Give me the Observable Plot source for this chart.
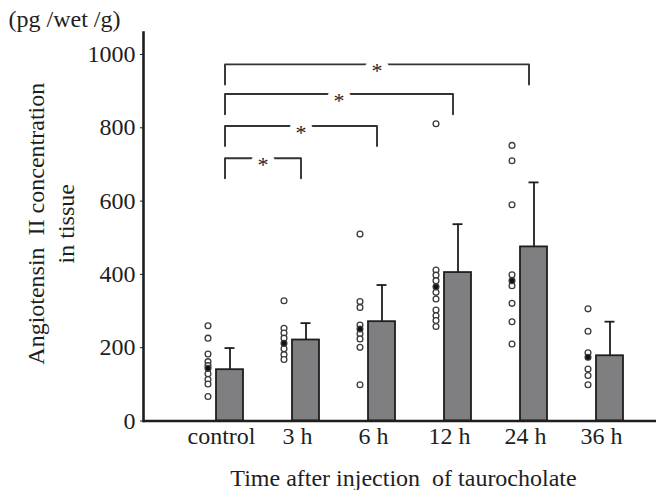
<!DOCTYPE html>
<html><head><meta charset="utf-8">
<script src="https://cdn.jsdelivr.net/npm/d3@7"></script>
<script src="https://cdn.jsdelivr.net/npm/@observablehq/plot@0.6"></script>
<style>body{margin:0;background:#fff}</style>
</head><body><div id="chart"></div>
<script>
const categories = ["control", "3 h", "6 h", "12 h", "24 h", "36 h"];
const means = [140, 221, 271, 405, 475, 178];
const sds = [59, 46, 100, 132, 176, 93];
const controlPts = [260, 226, 183, 162, 151, 129, 113, 101, 67];
const h3Pts = [328, 253, 240, 226, 197, 181, 168];
const h6Pts = [510, 326, 310, 262, 238, 224, 201, 99];
const h12Pts = [811, 412, 398, 383, 351, 333, 303, 287, 274, 258];
const h24Pts = [752, 710, 590, 399, 369, 321, 271, 210];
const h36Pts = [306, 245, 186, 142, 124, 99];
const medians = [144, 212, 251, 366, 383, 174];
const bracketTargets = [1, 2, 3, 4];
const bracketLevels = [717, 805, 892, 973];
const bracketDrop = 55;
const yTicks = [0, 200, 400, 600, 800, 1000];

const pointLists = [controlPts, h3Pts, h6Pts, h12Pts, h24Pts, h36Pts];
const groups = categories.map((c, i) => ({i, c, mean: means[i], sd: sds[i]}));
const pts = [];
pointLists.forEach((arr, i) => arr.forEach(v => pts.push({i, v})));
const med = medians.map((v, i) => ({i, v}));
const bracketPts = [];
bracketTargets.forEach((k, j) => {
  const L = bracketLevels[j];
  bracketPts.push({id: j, x: 0, y: L - bracketDrop}, {id: j, x: 0, y: L}, {id: j, x: k, y: L}, {id: j, x: k, y: L - bracketDrop});
});
const stars = bracketTargets.map((k, j) => ({x: k / 2, y: bracketLevels[j]}));

const ink = "#1e1e1e";
const chart = Plot.plot({
  width: 656, height: 490,
  marginLeft: 143, marginRight: 0, marginTop: 32, marginBottom: 69.5,
  style: {fontFamily: "Liberation Serif", fontSize: "24px", color: ink, background: "#fff"},
  x: {domain: [0, 5], insetLeft: 78, insetRight: 55},
  y: {domain: [0, 1060]},
  marks: [
    Plot.rect(groups, {x1: d => d.i - 0.5, x2: d => d.i + 0.5, y1: 0, y2: "mean", insetLeft: 33, insetRight: 16, fill: "#7f7f82", stroke: ink, strokeWidth: 1.8}),
    Plot.ruleX(groups, {x: "i", y1: "mean", y2: d => d.mean + d.sd, dx: 8.5, stroke: ink, strokeWidth: 1.8}),
    Plot.ruleY(groups, {x1: d => d.i - 0.5, x2: d => d.i + 0.5, y: d => d.mean + d.sd, insetLeft: 41.5, insetRight: 24.5, stroke: ink, strokeWidth: 1.8}),
    Plot.dot(pts, {x: "i", y: "v", dx: -13.5, r: 2.9, stroke: "#3a3a3a", strokeWidth: 1.3, fill: "white"}),
    Plot.dot(med, {x: "i", y: "v", dx: -13.5, r: 2.9, fill: "#111", stroke: "#3a3a3a", strokeWidth: 1.3}),
    Plot.line(bracketPts, {x: "x", y: "y", z: "id", dx: 3.5, stroke: "#333", strokeWidth: 1.9, curve: "linear"}),
    Plot.text(stars, {x: "x", y: "y", text: () => "*", dx: 3.5, dy: 6.5, fontSize: 22, stroke: "white", strokeWidth: 14, fill: ink}),
    Plot.ruleY([0], {stroke: ink, strokeWidth: 2.6}),
    Plot.frame({anchor: "left", stroke: ink, strokeWidth: 2.6}),
    Plot.axisY({ticks: yTicks, tickFormat: d => String(d), tickSize: 3, tickPadding: 5, label: null}),
    Plot.axisX({ticks: [0, 1, 2, 3, 4, 5], tickFormat: i => categories[i], tickSize: 0, tickPadding: 6, label: null}),
    Plot.text(["(pg /wet /g)"], {frameAnchor: "top-left", textAnchor: "start", lineAnchor: "middle", dx: -135, dy: -13, fontSize: 24, fill: ink}),
    Plot.text(["Angiotensin\u00a0 II concentration\nin tissue"], {frameAnchor: "left", textAnchor: "middle", lineAnchor: "middle", rotate: -90, dx: -94, dy: -3, fontSize: 24, lineHeight: 1.25, fill: ink}),
    Plot.text(["Time after injection\u00a0 of taurocholate"], {frameAnchor: "bottom", lineAnchor: "middle", dx: 3.5, dy: 57, fontSize: 24, fill: ink})
  ]
});
document.getElementById("chart").appendChild(chart);
</script>
</body></html>
